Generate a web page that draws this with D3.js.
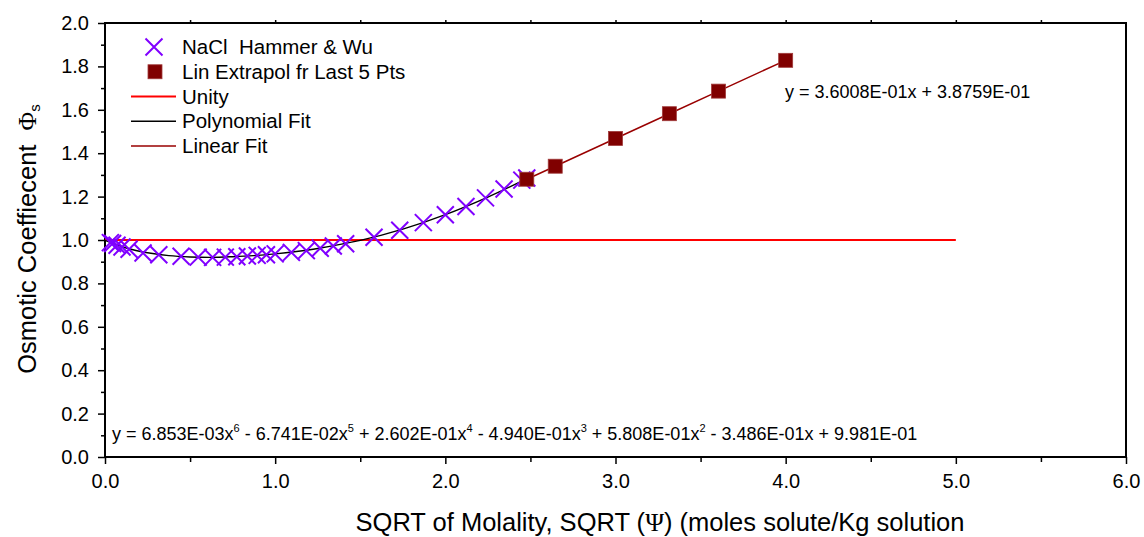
<!DOCTYPE html>
<html>
<head>
<meta charset="utf-8">
<script src="https://cdn.jsdelivr.net/npm/d3@7"></script>
<style>
  body { margin: 0; background: #fff; }
  text { font-family: Arial, "Liberation Sans", sans-serif; fill: #000; white-space: pre; }
  .greek { font-family: "Liberation Serif", "DejaVu Serif", serif; }
</style>
</head>
<body>
<div id="chart"></div>
<script>
// data
var hwX = [0.0316, 0.0447, 0.0707, 0.1, 0.1414, 0.2236, 0.3162, 0.4472, 0.5477, 0.6325,
  0.7071, 0.7746, 0.8367, 0.8944, 0.9487, 1.0, 1.0954, 1.1832, 1.2649, 1.3416,
  1.4142, 1.5811, 1.7321, 1.8708, 2.0, 2.1213, 2.2361, 2.3452, 2.4495, 2.4787];
var hwY = [0.988, 0.984, 0.976, 0.968, 0.957, 0.940, 0.932, 0.925, 0.921, 0.920,
  0.921, 0.923, 0.926, 0.929, 0.932, 0.936, 0.943, 0.951, 0.962, 0.972,
  0.983, 1.013, 1.045, 1.080, 1.116, 1.154, 1.194, 1.235, 1.276, 1.286];

var extX = [2.4787, 2.6458, 3.0, 3.3166, 3.6056, 4.0];
var extY = [1.280, 1.340, 1.468, 1.582, 1.686, 1.828];

var unityX = [0, 5];
var unityY = [1, 1];

// polynomial fit curve
var polyX = [0, 0.125, 0.25, 0.375, 0.5, 0.625, 0.75, 0.875, 1.0, 1.125, 1.25, 1.5, 1.75, 2.0, 2.25, 2.4787];
var polyY = [0.998, 0.963, 0.941, 0.928, 0.922, 0.920, 0.923, 0.928, 0.936, 0.947, 0.961, 0.998, 1.050, 1.117, 1.198, 1.283];

var xTicks = [0, 1, 2, 3, 4, 5, 6];
var yTicks = [0, 0.2, 0.4, 0.6, 0.8, 1.0, 1.2, 1.4, 1.6, 1.8, 2.0];

var legendLabels = ['NaCl  Hammer & Wu', 'Lin Extrapol fr Last 5 Pts', 'Unity', 'Polynomial Fit', 'Linear Fit'];

var svgWidth = 1144,
  svgHeight = 537;

var margin = { t: 23, r: 18, b: 80, l: 105 };

var width = svgWidth - margin.l - margin.r,
  height = svgHeight - margin.t - margin.b;

var svg = d3.select('#chart')
  .append('svg')
  .attr('width', svgWidth)
  .attr('height', svgHeight);

var chartGroup = svg.append('g')
  .attr('transform', `translate(${margin.l},${margin.t})`);

var xScale = d3.scaleLinear().domain([0, 6]).range([0, width]);
var yScale = d3.scaleLinear().domain([0, 2]).range([height, 0]);

// minor ticks first, then majors with labels
chartGroup.append('g')
  .attr('transform', `translate(0,${height})`)
  .call(d3.axisBottom(xScale).tickValues(d3.range(0.5, 6, 1)).tickSize(5).tickFormat(''))
  .call(g => g.select('.domain').remove());
chartGroup.append('g')
  .call(d3.axisLeft(yScale).tickValues(d3.range(0.1, 2, 0.2)).tickSize(4).tickFormat(''))
  .call(g => g.select('.domain').remove());
chartGroup.append('g')
  .call(d3.axisTop(xScale).tickValues(d3.range(0.5, 6, 0.5)).tickSize(3).tickFormat(''))
  .call(g => g.select('.domain').remove());

var xAxis = chartGroup.append('g')
  .attr('transform', `translate(0,${height})`)
  .call(d3.axisBottom(xScale).tickValues(xTicks).tickSize(7).tickPadding(10).tickFormat(d3.format('.1f')));
var yAxis = chartGroup.append('g')
  .call(d3.axisLeft(yScale).tickValues(yTicks).tickSize(7).tickPadding(9).tickFormat(d3.format('.1f')));

[xAxis, yAxis].forEach(a => {
  a.select('.domain').remove();
  a.selectAll('text').style('font-size', '20px').attr('fill', '#000');
});
chartGroup.selectAll('.tick line').attr('stroke', '#000').attr('stroke-width', 1.5);

// frame
chartGroup.append('rect')
  .attr('width', width)
  .attr('height', height)
  .attr('fill', 'none')
  .attr('stroke', '#000')
  .attr('stroke-width', 2);

var line = d3.line()
  .x(d => xScale(d[0]))
  .y(d => yScale(d[1]));

chartGroup.append('path')
  .datum(d3.zip(unityX, unityY))
  .attr('d', line)
  .attr('fill', 'none')
  .attr('stroke', '#ff0000')
  .attr('stroke-width', 2.2);

chartGroup.append('path')
  .datum(d3.zip(polyX, polyY))
  .attr('d', line.curve(d3.curveCatmullRom))
  .attr('fill', 'none')
  .attr('stroke', '#000')
  .attr('stroke-width', 1.4);
line.curve(d3.curveLinear);

chartGroup.append('path')
  .datum(d3.zip(extX, extY))
  .attr('d', line)
  .attr('fill', 'none')
  .attr('stroke', '#990000')
  .attr('stroke-width', 1.5);

// the cross markers
var cross = 'M-8.5,-8.5L8.5,8.5M-8.5,8.5L8.5,-8.5';
chartGroup.append('g').selectAll('path')
  .data(d3.zip(hwX, hwY))
  .enter()
  .append('path')
  .attr('transform', d => `translate(${xScale(d[0])},${yScale(d[1])})`)
  .attr('d', cross)
  .attr('stroke', '#8000ff')
  .attr('stroke-width', 2);

chartGroup.append('g').selectAll('rect')
  .data(d3.zip(extX, extY))
  .enter()
  .append('rect')
  .attr('x', d => xScale(d[0]) - 7)
  .attr('y', d => yScale(d[1]) - 7)
  .attr('width', 14)
  .attr('height', 14)
  .attr('fill', '#800000')
  .attr('stroke', '#a03a3a')
  .attr('stroke-width', 0.8);

// fit equations
chartGroup.append('text')
  .attr('x', 680)
  .attr('y', 75)
  .style('font-size', '18px')
  .text('y = 3.6008E-01x + 3.8759E-01');

var polyEq = chartGroup.append('text')
  .attr('x', 7)
  .attr('y', 417)
  .style('font-size', '18px');
var eqParts = [['y = 6.853E-03x', '6'], [' - 6.741E-02x', '5'], [' + 2.602E-01x', '4'],
  [' - 4.940E-01x', '3'], [' + 5.808E-01x', '2'], [' - 3.486E-01x + 9.981E-01', '']];
var back = 0;
eqParts.forEach(p => {
  polyEq.append('tspan').attr('dy', back).text(p[0]);
  back = 0;
  if (p[1]) {
    polyEq.append('tspan').attr('dy', -8).style('font-size', '11px').text(p[1]);
    back = 8;
  }
});

// legend
var legend = chartGroup.append('g');
legendLabels.forEach((lab, i) => {
  var ly = 24 + i * 24.75;
  var g = legend.append('g').attr('transform', `translate(0,${ly})`);
  if (i === 0) {
    g.append('path').attr('transform', 'translate(49,0)').attr('d', cross)
      .attr('stroke', '#8000ff').attr('stroke-width', 2);
  } else if (i === 1) {
    g.append('rect').attr('x', 43).attr('y', -7).attr('width', 14).attr('height', 14)
      .attr('fill', '#800000').attr('stroke', '#a03a3a').attr('stroke-width', 0.8);
  } else {
    var col = i === 2 ? '#ff0000' : (i === 3 ? '#000' : '#990000');
    g.append('line').attr('x1', 26).attr('x2', 71).attr('y1', 0).attr('y2', 0)
      .attr('stroke', col).attr('stroke-width', i === 2 ? 2.2 : 1.4);
  }
  g.append('text')
    .attr('x', 77)
    .attr('y', 7)
    .style('font-size', '20.5px')
    .text(lab);
});

// axis titles
var xTitle = svg.append('text')
  .attr('x', 660)
  .attr('y', 531)
  .attr('text-anchor', 'middle')
  .style('font-size', '25.5px');
xTitle.append('tspan').text('SQRT of Molality, SQRT (');
xTitle.append('tspan').attr('class', 'greek').text('\u03A8');
xTitle.append('tspan').text(') (moles solute/Kg solution');

var yTitle = svg.append('text')
  .attr('transform', `translate(36,239)rotate(-90)`)
  .attr('text-anchor', 'middle')
  .style('font-size', '25.5px');
yTitle.append('tspan').text('Osmotic Coeffiecent  ');
yTitle.append('tspan').attr('class', 'greek').text('\u03A6');
yTitle.append('tspan').attr('dy', 4).style('font-size', '15px').text('s');
</script>
</body>
</html>
